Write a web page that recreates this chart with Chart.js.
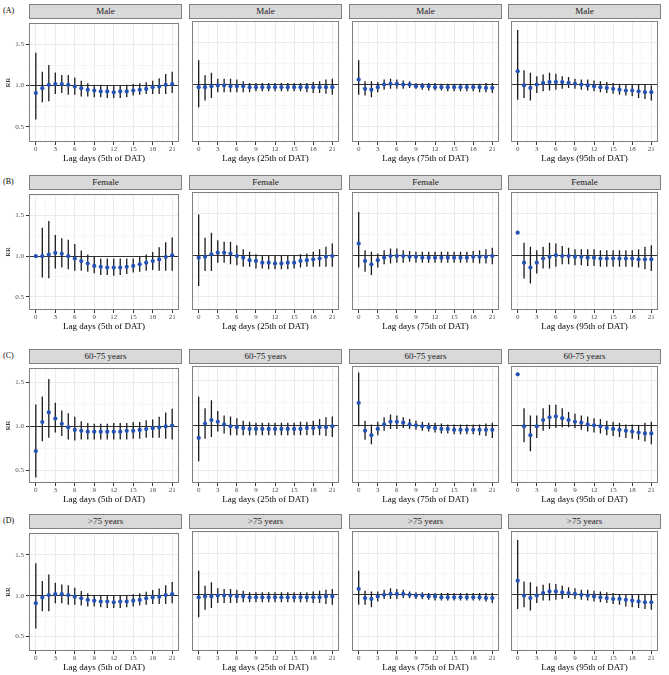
<!DOCTYPE html>
<html>
<head>
<meta charset="utf-8">
<script src="https://cdn.jsdelivr.net/npm/chart.js@4.4.1/dist/chart.umd.min.js"></script>
<style>
  body { margin: 0; background: #fff; width: 669px; height: 675px; position: relative; overflow: hidden;
         font-family: "Liberation Serif", "Times New Roman", serif; }
  .strip { position: absolute; background: #d9d9d9; border: 1px solid #808080; box-sizing: border-box;
           font-size: 9px; color: #1a1a1a; text-align: center; line-height: 12px; }
  .tag { position: absolute; left: 3px; font-size: 8px; color: #000; line-height: 10px; }
  canvas { position: absolute; }
</style>
</head>
<body>
<script>
// lag days on the x axis
const lags = [0,1,2,3,4,5,6,7,8,9,10,11,12,13,14,15,16,17,18,19,20,21];
const xBreaks = [0,3,6,9,12,15,18,21];
const xMinor = [1.5,4.5,7.5,10.5,13.5,16.5,19.5];
const yBreaks = [0.5,1.0,1.5];
const yMinor = [0.75,1.25,1.75];

const rowTitles = ['Male','Female','60-75 years','>75 years'];
const rowTags = ['(A)','(B)','(C)','(D)'];
const colTitles = ['Lag days (5th of DAT)','Lag days (25th of DAT)','Lag days (75th of DAT)','Lag days (95th of DAT)'];

// (A) Male
const male5RR = [0.91,0.97,1.01,1.02,1.02,1.01,0.99,0.97,0.95,0.94,0.93,0.93,0.92,0.93,0.93,0.94,0.95,0.96,0.98,0.99,1.01,1.02];
const male5Lo = [0.59,0.80,0.81,0.90,0.91,0.89,0.89,0.87,0.87,0.86,0.86,0.85,0.85,0.85,0.86,0.88,0.89,0.90,0.90,0.90,0.90,0.91];
const male5Hi = [1.40,1.17,1.25,1.16,1.13,1.13,1.10,1.06,1.03,1.01,1.01,1.00,1.00,1.00,1.01,1.02,1.03,1.04,1.06,1.09,1.14,1.17];
const male25RR = [0.97,0.97,0.98,0.99,0.99,0.98,0.98,0.98,0.97,0.97,0.97,0.97,0.97,0.97,0.97,0.97,0.97,0.97,0.97,0.97,0.97,0.97];
const male25Lo = [0.73,0.81,0.84,0.91,0.91,0.91,0.91,0.91,0.91,0.92,0.92,0.92,0.92,0.92,0.92,0.92,0.92,0.91,0.90,0.90,0.89,0.88];
const male25Hi = [1.29,1.11,1.14,1.07,1.07,1.07,1.06,1.04,1.02,1.02,1.02,1.02,1.02,1.02,1.02,1.02,1.02,1.02,1.03,1.04,1.06,1.07];
const male75RR = [1.06,0.95,0.94,0.97,1.00,1.01,1.01,1.00,1.00,0.98,0.98,0.98,0.97,0.97,0.97,0.97,0.97,0.97,0.97,0.97,0.96,0.96];
const male75Lo = [0.88,0.87,0.85,0.91,0.94,0.95,0.95,0.95,0.96,0.95,0.94,0.93,0.93,0.93,0.92,0.92,0.92,0.92,0.92,0.91,0.91,0.90];
const male75Hi = [1.29,1.04,1.04,1.03,1.06,1.07,1.06,1.05,1.04,1.02,1.02,1.02,1.02,1.01,1.01,1.01,1.01,1.01,1.01,1.01,1.02,1.02];
const male95RR = [1.16,0.99,0.96,1.00,1.02,1.03,1.03,1.03,1.02,1.01,1.00,0.99,0.98,0.97,0.96,0.95,0.94,0.93,0.93,0.92,0.91,0.91];
const male95Lo = [0.82,0.84,0.81,0.90,0.92,0.93,0.94,0.95,0.96,0.95,0.94,0.93,0.92,0.91,0.90,0.89,0.88,0.87,0.86,0.84,0.83,0.81];
const male95Hi = [1.65,1.17,1.14,1.10,1.12,1.14,1.13,1.10,1.09,1.07,1.06,1.06,1.05,1.04,1.03,1.02,1.01,1.00,1.00,1.00,1.00,0.99];

// (B) Female
const female5RR = [1.00,1.00,1.02,1.04,1.03,1.00,0.97,0.94,0.91,0.88,0.87,0.86,0.86,0.86,0.87,0.88,0.90,0.92,0.94,0.96,0.99,1.01];
const female5Lo = [0.99,0.74,0.73,0.85,0.86,0.84,0.82,0.82,0.81,0.79,0.77,0.77,0.76,0.77,0.78,0.80,0.81,0.82,0.83,0.82,0.82,0.82];
const female5Hi = [1.01,1.35,1.43,1.26,1.22,1.20,1.15,1.07,1.02,0.99,0.97,0.97,0.97,0.97,0.97,0.97,0.99,1.02,1.05,1.11,1.17,1.23];
const female25RR = [0.97,0.98,1.01,1.03,1.03,1.02,0.99,0.97,0.94,0.93,0.91,0.91,0.90,0.90,0.91,0.91,0.93,0.94,0.95,0.96,0.98,0.99];
const female25Lo = [0.63,0.81,0.81,0.91,0.91,0.89,0.88,0.86,0.86,0.84,0.84,0.83,0.83,0.83,0.83,0.84,0.85,0.86,0.86,0.86,0.86,0.86];
const female25Hi = [1.49,1.21,1.27,1.18,1.16,1.16,1.12,1.07,1.04,1.01,1.00,0.99,0.99,0.99,1.00,1.00,1.01,1.02,1.04,1.07,1.10,1.14];
const female75RR = [1.14,0.93,0.89,0.94,0.97,0.99,0.99,0.99,0.98,0.98,0.97,0.97,0.97,0.97,0.97,0.97,0.97,0.97,0.98,0.98,0.98,0.99];
const female75Lo = [0.85,0.80,0.76,0.85,0.89,0.90,0.91,0.91,0.92,0.91,0.91,0.91,0.91,0.91,0.91,0.91,0.91,0.91,0.91,0.90,0.90,0.89];
const female75Hi = [1.52,1.06,1.04,1.02,1.06,1.08,1.08,1.06,1.05,1.04,1.04,1.04,1.04,1.04,1.04,1.04,1.04,1.04,1.05,1.06,1.07,1.09];
const female95RR = [1.27,0.91,0.85,0.91,0.96,0.98,1.00,0.99,0.99,0.98,0.98,0.97,0.97,0.96,0.96,0.96,0.96,0.96,0.96,0.95,0.95,0.95];
const female95Lo = [null,0.72,0.66,0.78,0.84,0.84,0.86,0.89,0.89,0.88,0.88,0.87,0.87,0.86,0.86,0.86,0.86,0.86,0.86,0.85,0.83,0.81];
const female95Hi = [null,1.15,1.10,1.06,1.10,1.15,1.14,1.11,1.09,1.07,1.07,1.07,1.07,1.06,1.06,1.06,1.06,1.06,1.06,1.07,1.10,1.12];

// (C) 60-75 years
const age6075_5RR = [0.72,1.05,1.16,1.09,1.03,0.99,0.96,0.95,0.94,0.94,0.94,0.94,0.94,0.94,0.95,0.95,0.96,0.97,0.98,0.99,1.00,1.01];
const age6075_5Lo = [0.42,0.83,0.87,0.93,0.89,0.85,0.84,0.85,0.85,0.85,0.85,0.85,0.85,0.85,0.85,0.86,0.86,0.87,0.87,0.87,0.86,0.85];
const age6075_5Hi = [1.25,1.34,1.54,1.27,1.18,1.15,1.11,1.06,1.04,1.03,1.03,1.03,1.04,1.04,1.04,1.05,1.05,1.07,1.08,1.11,1.16,1.20];
const age6075_25RR = [0.86,1.02,1.06,1.04,1.01,0.99,0.98,0.97,0.96,0.96,0.96,0.96,0.96,0.96,0.96,0.96,0.96,0.97,0.97,0.98,0.98,0.99];
const age6075_25Lo = [0.60,0.85,0.87,0.93,0.91,0.89,0.89,0.89,0.89,0.89,0.89,0.89,0.89,0.89,0.89,0.89,0.89,0.89,0.89,0.89,0.88,0.87];
const age6075_25Hi = [1.32,1.19,1.28,1.16,1.11,1.10,1.08,1.05,1.04,1.03,1.03,1.03,1.03,1.03,1.03,1.03,1.04,1.04,1.05,1.07,1.09,1.10];
const age6075_75RR = [1.25,0.94,0.89,0.96,1.01,1.04,1.04,1.03,1.01,1.00,0.99,0.98,0.97,0.96,0.96,0.95,0.95,0.95,0.95,0.95,0.95,0.95];
const age6075_75Lo = [0.99,0.84,0.79,0.89,0.94,0.96,0.96,0.97,0.96,0.95,0.94,0.93,0.92,0.91,0.91,0.90,0.90,0.90,0.90,0.89,0.88,0.86];
const age6075_75Hi = [1.59,1.05,1.01,1.04,1.09,1.12,1.11,1.09,1.07,1.05,1.04,1.03,1.03,1.02,1.01,1.01,1.01,1.01,1.01,1.01,1.02,1.03];
const age6075_95RR = [1.57,0.99,0.89,0.99,1.06,1.09,1.10,1.08,1.06,1.04,1.03,1.01,1.00,0.99,0.97,0.96,0.95,0.94,0.93,0.92,0.91,0.91];
const age6075_95Lo = [null,0.81,0.71,0.86,0.94,0.96,0.97,0.98,0.98,0.97,0.95,0.93,0.92,0.91,0.89,0.88,0.87,0.86,0.85,0.84,0.82,0.79];
const age6075_95Hi = [null,1.19,1.11,1.11,1.19,1.23,1.23,1.19,1.15,1.13,1.11,1.10,1.08,1.07,1.05,1.04,1.03,1.01,1.01,1.00,1.03,1.04];

// (D) >75 years
const age75_5RR = [0.91,0.98,1.01,1.02,1.02,1.01,0.99,0.97,0.95,0.94,0.93,0.93,0.92,0.93,0.93,0.94,0.95,0.97,0.98,0.99,1.01,1.02];
const age75_5Lo = [0.60,0.81,0.81,0.91,0.91,0.89,0.89,0.88,0.87,0.87,0.86,0.85,0.85,0.85,0.86,0.87,0.88,0.89,0.90,0.90,0.90,0.91];
const age75_5Hi = [1.40,1.18,1.26,1.16,1.14,1.13,1.10,1.06,1.03,1.01,1.00,1.00,1.00,1.00,1.01,1.02,1.03,1.05,1.07,1.09,1.13,1.17];
const age75_25RR = [0.97,0.98,0.98,0.99,0.99,0.99,0.98,0.98,0.97,0.97,0.97,0.97,0.97,0.97,0.97,0.97,0.97,0.97,0.97,0.97,0.98,0.98];
const age75_25Lo = [0.73,0.82,0.84,0.90,0.90,0.90,0.90,0.91,0.91,0.91,0.91,0.91,0.91,0.91,0.91,0.91,0.91,0.91,0.90,0.90,0.89,0.88];
const age75_25Hi = [1.29,1.11,1.15,1.08,1.07,1.07,1.06,1.05,1.03,1.03,1.03,1.03,1.03,1.03,1.03,1.03,1.03,1.03,1.04,1.05,1.06,1.07];
const age75_75RR = [1.07,0.96,0.95,0.98,1.00,1.01,1.01,1.01,1.00,0.99,0.99,0.98,0.98,0.97,0.97,0.97,0.97,0.97,0.97,0.97,0.96,0.96];
const age75_75Lo = [0.88,0.88,0.85,0.92,0.95,0.95,0.95,0.96,0.96,0.95,0.95,0.94,0.93,0.93,0.93,0.93,0.93,0.93,0.93,0.93,0.92,0.90];
const age75_75Hi = [1.29,1.05,1.04,1.04,1.06,1.08,1.07,1.06,1.04,1.03,1.03,1.02,1.02,1.02,1.02,1.02,1.02,1.02,1.02,1.02,1.02,1.02];
const age75_95RR = [1.17,0.99,0.96,0.99,1.02,1.04,1.04,1.03,1.02,1.01,1.00,0.99,0.98,0.97,0.96,0.95,0.95,0.94,0.93,0.92,0.91,0.91];
const age75_95Lo = [0.83,0.85,0.81,0.90,0.93,0.93,0.94,0.95,0.96,0.95,0.94,0.93,0.92,0.91,0.90,0.89,0.88,0.86,0.85,0.84,0.83,0.82];
const age75_95Hi = [1.66,1.16,1.15,1.10,1.12,1.14,1.13,1.11,1.09,1.08,1.06,1.06,1.05,1.04,1.03,1.02,1.01,1.00,1.00,1.00,1.00,1.00];

// y range of each row
const rowYMin = [0.317, 0.34, 0.356, 0.324];
const rowYMax = [1.757, 1.76, 1.663, 1.767];

const panels = [
  [[male5RR,male5Lo,male5Hi],[male25RR,male25Lo,male25Hi],[male75RR,male75Lo,male75Hi],[male95RR,male95Lo,male95Hi]],
  [[female5RR,female5Lo,female5Hi],[female25RR,female25Lo,female25Hi],[female75RR,female75Lo,female75Hi],[female95RR,female95Lo,female95Hi]],
  [[age6075_5RR,age6075_5Lo,age6075_5Hi],[age6075_25RR,age6075_25Lo,age6075_25Hi],[age6075_75RR,age6075_75Lo,age6075_75Hi],[age6075_95RR,age6075_95Lo,age6075_95Hi]],
  [[age75_5RR,age75_5Lo,age75_5Hi],[age75_25RR,age75_25Lo,age75_25Hi],[age75_75RR,age75_75Lo,age75_75Hi],[age75_95RR,age75_95Lo,age75_95Hi]]
];

// layout
const colLeft = [29, 189, 349, 508];
const plotW = 153;
const plotTop = [18, 189, 363, 528];
const plotH = [124, 121, 120, 123];
const stripH = 14;
const xAreaH = 26;
const serif = '"Liberation Serif", "Times New Roman", serif';

const isMajorY = v => yBreaks.some(b => Math.abs(b - v) < 1e-6);
const isMajorX = v => xBreaks.includes(v);
const tickVal = ctx => (ctx && ctx.tick) ? ctx.tick.value : null;

// panel border drawn on top, like ggplot's panel.border
const panelBorder = {
  id: 'panelBorder',
  afterDraw(chart) {
    const a = chart.chartArea, ctx = chart.ctx;
    ctx.save();
    ctx.strokeStyle = '#808080';
    ctx.lineWidth = 1;
    ctx.strokeRect(Math.round(a.left) + 0.5, Math.round(a.top) + 0.5,
                   Math.round(a.right - a.left) - 1, Math.round(a.bottom - a.top) - 1);
    ctx.restore();
  }
};

function maakPaneel(r, c) {
  const [est, lo, hi] = panels[r][c];
  const leftW = c === 0 ? 29 : 0;

  const strip = document.createElement('div');
  strip.className = 'strip';
  strip.style.left = colLeft[c] + 'px';
  strip.style.top = (plotTop[r] - stripH) + 'px';
  strip.style.width = plotW + 'px';
  strip.style.height = (stripH + 1) + 'px';
  strip.textContent = rowTitles[r];
  document.body.appendChild(strip);

  const cv = document.createElement('canvas');
  const w = leftW + plotW + 2, h = plotH[r] + 1 + xAreaH;
  cv.width = w; cv.height = h;
  cv.style.width = w + 'px'; cv.style.height = h + 'px';
  cv.style.left = (colLeft[c] - leftW - 1) + 'px';
  cv.style.top = (plotTop[r] - 1) + 'px';
  document.body.appendChild(cv);

  // error bars: one line segment per lag, separated by gaps
  const errData = [];
  lags.forEach((x, i) => {
    if (lo[i] == null) return;
    errData.push({ x: x, y: lo[i] }, { x: x, y: hi[i] }, { x: x, y: null });
  });

  new Chart(cv, {
    type: 'scatter',
    data: {
      datasets: [
        {
          type: 'scatter',
          data: lags.map((x, i) => ({ x: x, y: est[i] })),
          pointRadius: 2.1,
          pointBackgroundColor: '#2453b3',
          pointBorderWidth: 0,
          order: 1
        },
        {
          type: 'line',
          data: errData,
          borderColor: '#1a1a1a',
          borderWidth: 1.3,
          pointRadius: 0,
          spanGaps: false,
          fill: false,
          order: 2
        }
      ]
    },
    options: {
      responsive: false,
      animation: false,
      events: [],
      layout: { padding: { left: 1, right: 1, top: 1, bottom: 0 } },
      plugins: { legend: { display: false }, tooltip: { enabled: false } },
      scales: {
        x: {
          type: 'linear',
          min: -1.05,
          max: 22.05,
          afterFit: s => { s.height = xAreaH; },
          afterBuildTicks: s => { s.ticks = xBreaks.concat(xMinor).sort((a, b) => a - b).map(v => ({ value: v })); },
          border: { display: false },
          grid: {
            color: ctx => isMajorX(tickVal(ctx)) ? '#ebebeb' : '#f5f5f5',
            lineWidth: 1,
            tickLength: 3,
            tickColor: ctx => isMajorX(tickVal(ctx)) ? '#333333' : 'rgba(0,0,0,0)'
          },
          ticks: {
            autoSkip: false, maxRotation: 0, minRotation: 0, padding: 0,
            color: '#4d4d4d', font: { family: serif, size: 7 },
            callback: v => isMajorX(v) ? String(v) : ''
          },
          title: {
            display: true, text: colTitles[c], color: '#000',
            font: { family: serif, size: 9 }, padding: { top: 0, bottom: 3.5 }
          }
        },
        y: {
          type: 'linear',
          min: rowYMin[r],
          max: rowYMax[r],
          afterFit: s => { s.width = leftW; },
          afterBuildTicks: s => {
            s.ticks = yBreaks.concat(yMinor).sort((a, b) => a - b)
              .filter(v => v >= rowYMin[r] && v <= rowYMax[r]).map(v => ({ value: v }));
          },
          border: { display: false },
          grid: {
            color: ctx => {
              const v = tickVal(ctx);
              if (v === null) return '#ebebeb';
              if (Math.abs(v - 1) < 1e-6) return '#333333';
              return isMajorY(v) ? '#ebebeb' : '#f5f5f5';
            },
            lineWidth: 1,
            drawTicks: c === 0,
            tickLength: 3,
            tickColor: ctx => isMajorY(tickVal(ctx)) ? '#333333' : 'rgba(0,0,0,0)'
          },
          ticks: {
            display: c === 0, padding: 2,
            color: '#4d4d4d', font: { family: serif, size: 7 },
            callback: v => isMajorY(v) ? v.toFixed(1) : ''
          },
          title: {
            display: c === 0, text: 'RR', color: '#000',
            font: { family: serif, size: 7 }, padding: { top: 3.5, bottom: 0 }
          }
        }
      }
    },
    plugins: [panelBorder]
  });
}

for (let r = 0; r < 4; r++) {
  const tag = document.createElement('div');
  tag.className = 'tag';
  tag.style.top = (plotTop[r] - stripH / 2 - 5) + 'px';
  tag.textContent = rowTags[r];
  document.body.appendChild(tag);
  for (let c = 0; c < 4; c++) maakPaneel(r, c);
}
</script>
</body>
</html>
